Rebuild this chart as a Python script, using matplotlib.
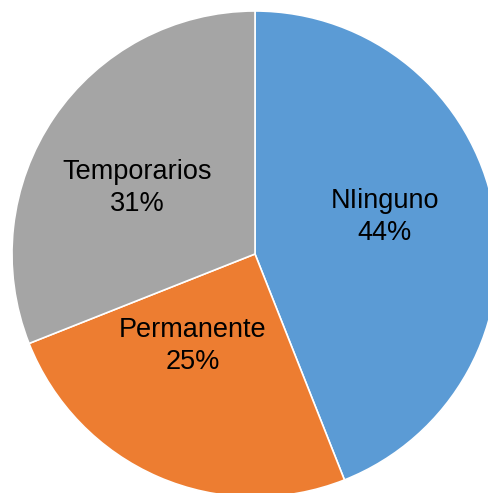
import matplotlib.pyplot as plt

plt.rcParams['font.family'] = ['Liberation Sans', 'DejaVu Sans']

categories = ['NIinguno', 'Permanente', 'Temporarios']
shares = [44, 25, 31]
colors = ['#5B9BD5', '#ED7D31', '#A5A5A5']
# label centres in pixel coords (x, y from top)
label_pos = [(385, 217), (193, 346), (137, 188)]

W, H = 488, 493
fig = plt.figure(figsize=(W / 100, H / 100), dpi=100)
ax = fig.add_axes([0, 0, 1, 1])

cx, cy, r = 255, H - 254, 243
ax.pie(shares, colors=colors, startangle=90, counterclock=False,
       center=(cx, cy), radius=r, frame=True,
       wedgeprops=dict(edgecolor='white', linewidth=1.2))
ax.set_xlim(0, W)
ax.set_ylim(0, H)
ax.set_aspect('equal')
ax.axis('off')

for name, val, (x, y) in zip(categories, shares, label_pos):
    ax.text(x, H - y, f'{name}\n{val}%', ha='center', va='center',
            fontsize=19.5, color='black', linespacing=1.33)

fig.savefig('out.png', dpi=100)
